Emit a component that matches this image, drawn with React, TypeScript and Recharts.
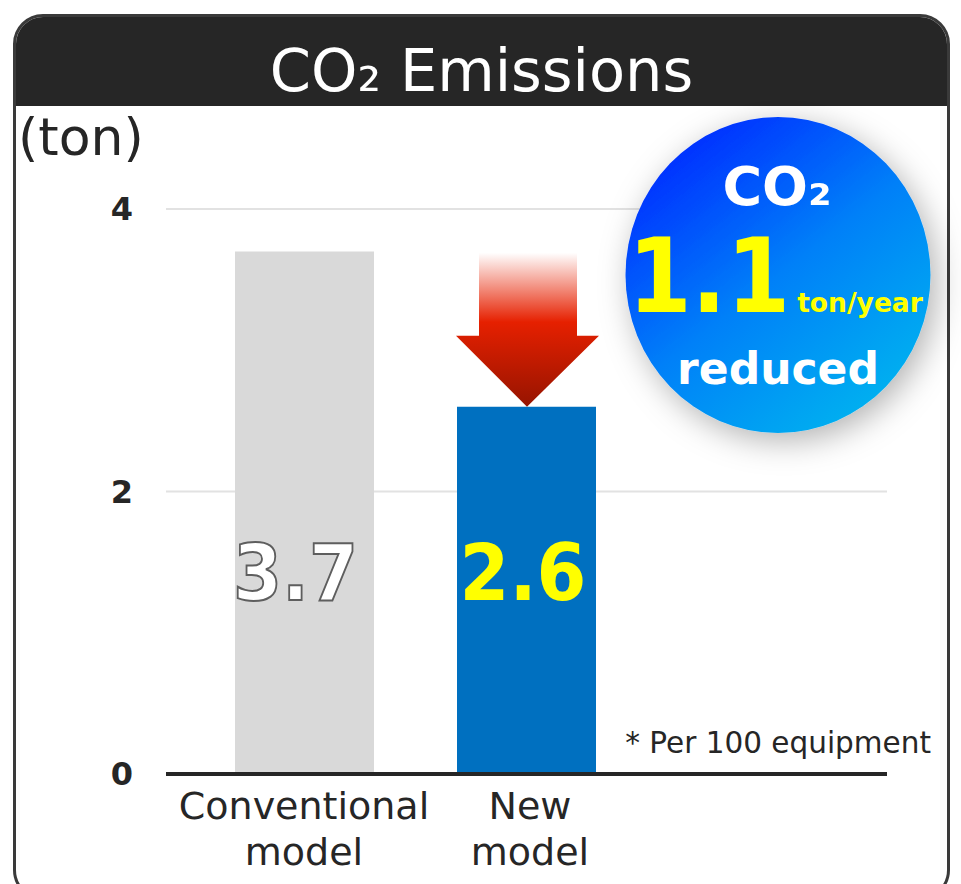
import { BarChart, Bar, Cell, XAxis, YAxis, CartesianGrid, LabelList, ReferenceDot } from 'recharts';

const categories = ['Conventional model', 'New model'];
const emissions = [3.7, 2.6];
const yTicks = [0, 2, 4];
const barColors = ['#d9d9d9', '#0070c0'];

const data = categories.map((name, i) => ({ name, emissions: emissions[i] }));

const FONT = '"DejaVu Sans", sans-serif';
const INK = '#262626';

// two line category label, the second one sits a little right in the original
function CategoryTick({ x, y, payload, index }: any) {
    const words = payload.value.split(' ');
    const cx = x + (index === 1 ? 4 : 0);
    return (
        <g fontFamily={FONT} fontSize={38} fill={INK} textAnchor="middle">
            <text x={cx} y={y + 37}>{words[0]}</text>
            <text x={cx} y={y + 83}>{words[1]}</text>
        </g>
    );
}

function ValueLabel({ x, y, width, height, value, index }: any) {
    const cx = x + width / 2;
    const baseline = y + height - 174;
    if (index === 0) {
        return (
            <text x={cx - 9} y={baseline} textAnchor="middle" fontFamily={FONT} fontSize={78} fontWeight="bold" textLength={125} lengthAdjust="spacingAndGlyphs" fill="#fff" stroke="#5e5e5e" strokeWidth={2}>
                {value}
            </text>
        );
    }
    return (
        <text x={cx - 3.5} y={baseline} textAnchor="middle" fontFamily={FONT} fontSize={78} fontWeight="bold" textLength={127} lengthAdjust="spacingAndGlyphs" fill="#ffff00">
            {value}
        </text>
    );
}

// arrow tip is anchored on the new model value
function DownArrow({ cx, cy }: any) {
    const tip = cx + 1;
    return (
        <path
            d={`M${tip - 48} ${cy - 154} H${tip + 50} V${cy - 71} H${tip + 72} L${tip} ${cy} L${tip - 71} ${cy - 71} H${tip - 48} Z`}
            fill="url(#arrowFill)"
        />
    );
}

export default function App() {
    return (
        <div style={{ position: 'absolute', left: 0, top: 0, width: 961, height: 884, overflow: 'hidden', background: '#fff' }}>
            <div style={{
                position: 'absolute', left: 13, top: 14, width: 931, height: 880, border: '3px solid #3a3a3a',
                borderRadius: 30, overflow: 'hidden', background: '#fff'
            }}>
                <div style={{
                    height: 89, background: INK, color: '#fff', fontFamily: FONT, fontSize: 59,
                    textAlign: 'center', lineHeight: '107px'
                }}>
                    CO₂ Emissions
                </div>
            </div>
            <div style={{ position: 'absolute', left: 18, top: 107, fontFamily: FONT, fontSize: 52, color: INK }}>(ton)</div>

            <div style={{ position: 'absolute', left: 0, top: 0 }}>
                <BarChart width={961} height={884} data={data} margin={{ top: 209, right: 74, bottom: 0, left: 0 }}>
                    <defs>
                        <linearGradient id="arrowFill" x1="0" y1="0" x2="0" y2="1">
                            <stop offset="0" stopColor="#e62000" stopOpacity={0} />
                            <stop offset="0.45" stopColor="#e62000" />
                            <stop offset="1" stopColor="#961400" />
                        </linearGradient>
                    </defs>
                    <CartesianGrid vertical={false} stroke="#e2e2e2" strokeWidth={2} />
                    <XAxis
                        dataKey="name"
                        height={110}
                        interval={0}
                        padding={{ left: 27, right: 250 }}
                        axisLine={{ stroke: INK, strokeWidth: 4 }}
                        tickLine={false}
                        tick={<CategoryTick />}
                    />
                    <YAxis
                        width={166}
                        domain={[0, 4]}
                        ticks={yTicks}
                        axisLine={false}
                        tickLine={false}
                        tickMargin={27}
                        tick={{ fontFamily: FONT, fontSize: 32, fontWeight: 'bold', fill: INK }}
                    />
                    <Bar dataKey="emissions" barSize={139} isAnimationActive={false}>
                        {data.map((d, i) => <Cell key={d.name} fill={barColors[i]} />)}
                        <LabelList dataKey="emissions" content={<ValueLabel />} />
                    </Bar>
                    <ReferenceDot x="New model" y={2.6} shape={<DownArrow />} />
                </BarChart>
            </div>

            <svg width={961} height={884} style={{ position: 'absolute', left: 0, top: 0 }} fontFamily={FONT}>
                <defs>
                    <linearGradient id="badgeFill" x1="0.2" y1="0.1" x2="0.8" y2="0.9">
                        <stop offset="0" stopColor="#0033ff" />
                        <stop offset="0.5" stopColor="#0080f8" />
                        <stop offset="1" stopColor="#00aef0" />
                    </linearGradient>
                    <filter id="badgeShadow" x="-25%" y="-25%" width="155%" height="155%">
                        <feDropShadow dx={6} dy={8} stdDeviation={16} floodColor="#000" floodOpacity={0.3} />
                    </filter>
                </defs>
                <ellipse cx={778} cy={275} rx={152.5} ry={158} fill="url(#badgeFill)" filter="url(#badgeShadow)" />
                <text x={777} y={205} textAnchor="middle" fontSize={54} fontWeight="bold" fill="#fff">CO₂</text>
                <text transform="translate(709 312) scale(0.88 1)" textAnchor="middle" fontSize={104} fontWeight="bold" fill="#ffff00">1.1</text>
                <text x={860} y={312} textAnchor="middle" fontSize={26.5} fontWeight="bold" fill="#ffff00">ton/year</text>
                <text x={778} y={384} textAnchor="middle" fontSize={44} fontWeight="bold" fill="#fff">reduced</text>
                <text x={931} y={753} textAnchor="end" fontSize={29.5} fill={INK}>* Per 100 equipment</text>
            </svg>
        </div>
    );
}
